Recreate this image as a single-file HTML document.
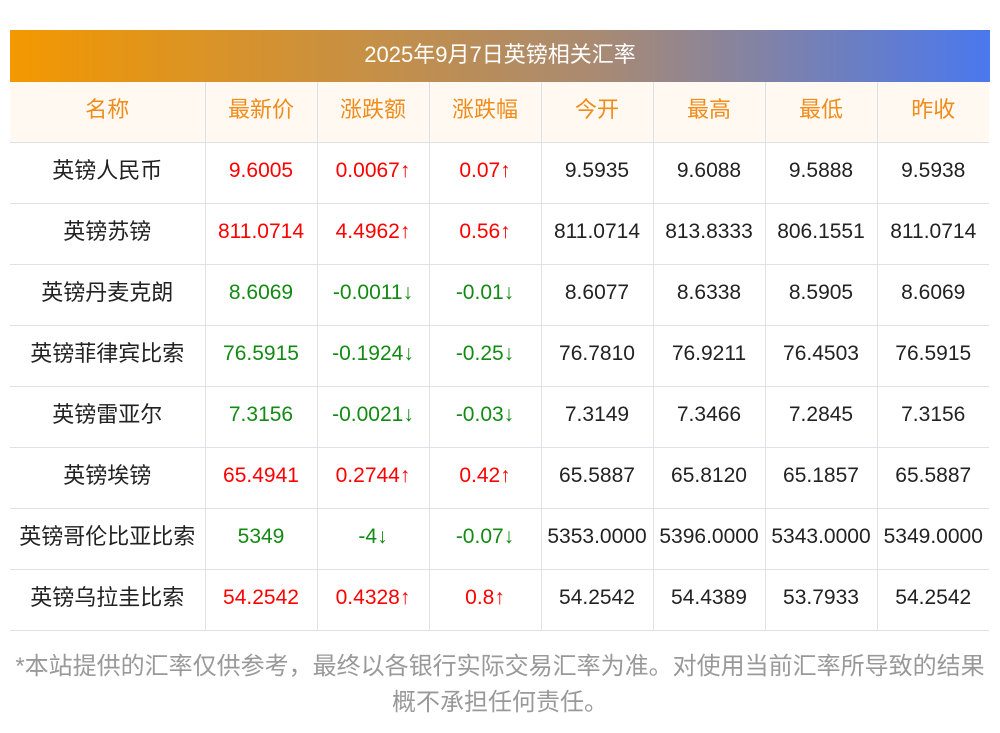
<!DOCTYPE html>
<html><head><meta charset="utf-8"><style>
body{margin:0;width:1000px;height:733px;background:#fff;font-family:"Liberation Sans","Noto Sans CJK SC",sans-serif;position:relative;overflow:hidden}
.hd{position:absolute;left:10px;top:30px;width:980px;height:52px;background:linear-gradient(90deg,#f39800,#a98a72 60%,#4a78ee);color:#fff;font-size:22px;line-height:50px;text-align:center}
table{position:absolute;left:10px;top:82px;border-collapse:collapse;width:979px;table-layout:fixed}
td{height:56px;border-bottom:1px solid #e0e0e8;border-right:1px solid #e0e0e8;text-align:center;font-size:21px;color:#222;padding:0 0 4px 0;white-space:nowrap;line-height:22px}
td:first-child{font-size:22px}
td:last-child{border-right:none}
tr.h td{background:#fff9f2;color:#f08c1a;font-size:22px}
.r{color:#f00}.g{color:#138a13}
.ft{position:absolute;left:0;width:1000px;top:649px;text-align:center;color:#999;font-size:24px;line-height:36px;white-space:nowrap}
</style></head><body>
<div class="hd">2025年9月7日英镑相关汇率</div>
<table>
<colgroup><col style="width:195px"><col style="width:112px"><col style="width:112px"><col style="width:112px"><col style="width:112px"><col style="width:112px"><col style="width:112px"><col style="width:112px"></colgroup>
<tr class="h"><td>名称</td><td>最新价</td><td>涨跌额</td><td>涨跌幅</td><td>今开</td><td>最高</td><td>最低</td><td>昨收</td></tr>
<tr><td>英镑人民币</td><td class="r">9.6005</td><td class="r">0.0067↑</td><td class="r">0.07↑</td><td>9.5935</td><td>9.6088</td><td>9.5888</td><td>9.5938</td></tr>
<tr><td>英镑苏镑</td><td class="r">811.0714</td><td class="r">4.4962↑</td><td class="r">0.56↑</td><td>811.0714</td><td>813.8333</td><td>806.1551</td><td>811.0714</td></tr>
<tr><td>英镑丹麦克朗</td><td class="g">8.6069</td><td class="g">-0.0011↓</td><td class="g">-0.01↓</td><td>8.6077</td><td>8.6338</td><td>8.5905</td><td>8.6069</td></tr>
<tr><td>英镑菲律宾比索</td><td class="g">76.5915</td><td class="g">-0.1924↓</td><td class="g">-0.25↓</td><td>76.7810</td><td>76.9211</td><td>76.4503</td><td>76.5915</td></tr>
<tr><td>英镑雷亚尔</td><td class="g">7.3156</td><td class="g">-0.0021↓</td><td class="g">-0.03↓</td><td>7.3149</td><td>7.3466</td><td>7.2845</td><td>7.3156</td></tr>
<tr><td>英镑埃镑</td><td class="r">65.4941</td><td class="r">0.2744↑</td><td class="r">0.42↑</td><td>65.5887</td><td>65.8120</td><td>65.1857</td><td>65.5887</td></tr>
<tr><td>英镑哥伦比亚比索</td><td class="g">5349</td><td class="g">-4↓</td><td class="g">-0.07↓</td><td>5353.0000</td><td>5396.0000</td><td>5343.0000</td><td>5349.0000</td></tr>
<tr><td>英镑乌拉圭比索</td><td class="r">54.2542</td><td class="r">0.4328↑</td><td class="r">0.8↑</td><td>54.2542</td><td>54.4389</td><td>53.7933</td><td>54.2542</td></tr>
</table>
<div class="ft">*本站提供的汇率仅供参考，最终以各银行实际交易汇率为准。对使用当前汇率所导致的结果<br>概不承担任何责任。</div>
</body></html>
